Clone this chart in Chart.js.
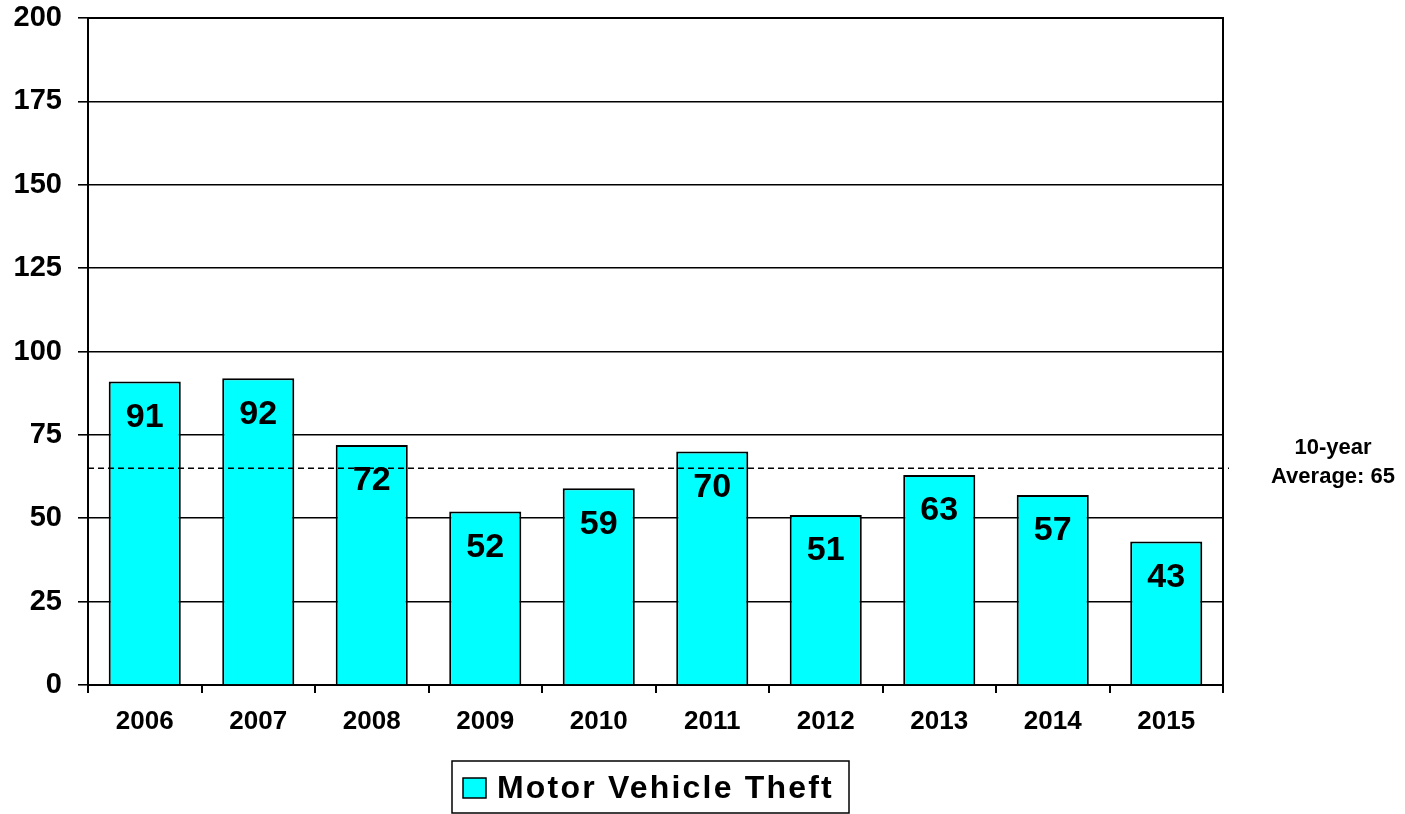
<!DOCTYPE html>
<html>
<head>
<meta charset="utf-8">
<script src="https://cdn.jsdelivr.net/npm/chart.js@4/dist/chart.umd.min.js"></script>
<style>
  html, body { margin: 0; padding: 0; background: #fff; }
  #wrap { width: 1405px; height: 814px; }
</style>
</head>
<body>
<div id="wrap"><canvas id="myChart" width="1405" height="814"></canvas></div>
<script>
// dados do gráfico
const anos = ['2006', '2007', '2008', '2009', '2010', '2011', '2012', '2013', '2014', '2015'];
const roubos = [91, 92, 72, 52, 59, 70, 51, 63, 57, 43];
const media = 65;
const mediaTexto = ['10-year', 'Average: 65'];
const serieNome = 'Motor Vehicle Theft';

const fonte = 'Arial, "Liberation Sans", sans-serif';

// desenha rótulos, linha da média e legenda
const extras = {
  id: 'extras',
  afterDatasetsDraw(chart) {
    const ctx = chart.ctx;
    const area = chart.chartArea;
    const y = chart.scales.y;
    const meta = chart.getDatasetMeta(0);

    // borda do gráfico
    ctx.save();
    ctx.strokeStyle = '#000';
    ctx.lineWidth = 2;
    ctx.beginPath();
    ctx.moveTo(area.left, area.top);
    ctx.lineTo(area.right, area.top);
    ctx.lineTo(area.right, area.bottom);
    ctx.stroke();

    // valores nas barras
    ctx.fillStyle = '#000';
    ctx.font = 'bold 34px ' + fonte;
    ctx.textAlign = 'center';
    ctx.textBaseline = 'middle';
    meta.data.forEach(function (bar, i) {
      ctx.fillText(roubos[i], bar.x, bar.y + 36);
    });

    // linha da média
    const ym = y.getPixelForValue(media);
    ctx.setLineDash([6, 4]);
    ctx.lineWidth = 1.3;
    ctx.beginPath();
    ctx.moveTo(area.left, ym);
    ctx.lineTo(area.right + 6, ym);
    ctx.stroke();
    ctx.setLineDash([]);

    ctx.font = 'bold 22px ' + fonte;
    ctx.fillText(mediaTexto[0], 1333, ym - 20);
    ctx.fillText(mediaTexto[1], 1333, ym + 9);

    // legenda
    ctx.lineWidth = 1.5;
    ctx.strokeRect(452, 761, 397, 52);
    ctx.fillStyle = '#00FFFF';
    ctx.fillRect(463, 778, 23, 20);
    ctx.strokeRect(463, 778, 23, 20);
    ctx.fillStyle = '#000';
    ctx.font = 'bold 32px ' + fonte;
    ctx.letterSpacing = '2.2px';
    ctx.textAlign = 'left';
    ctx.fillText(serieNome, 497, 789);
    ctx.restore();
  }
};

const data = {
  labels: anos,
  datasets: [{
    label: serieNome,
    data: roubos,
    backgroundColor: '#00FFFF',
    borderColor: '#000',
    borderWidth: 2,
    categoryPercentage: 1,
    barPercentage: 0.635
  }]
};

const config = {
  type: 'bar',
  data: data,
  plugins: [extras],
  options: {
    responsive: false,
    animation: false,
    layout: { padding: { left: 0, right: 182, top: 18, bottom: 0 } },
    plugins: {
      legend: { display: false },
      tooltip: { enabled: false }
    },
    scales: {
      x: {
        offset: true,
        afterFit(scale) { scale.height = 129; },
        grid: {
          offset: true,
          drawOnChartArea: false,
          color: '#000',
          lineWidth: 2,
          tickLength: 8
        },
        border: { color: '#000', width: 2 },
        ticks: {
          color: '#000',
          font: { family: fonte, size: 26, weight: 'bold' },
          padding: 13
        }
      },
      y: {
        min: 0,
        max: 200,
        afterFit(scale) {
          scale.width = 88;
          scale.paddingTop = 0;
          scale.paddingBottom = 0;
        },
        grid: {
          color: '#000',
          lineWidth: 1.6,
          tickLength: 10
        },
        border: { color: '#000', width: 2 },
        ticks: {
          stepSize: 25,
          color: '#000',
          font: { family: fonte, size: 29, weight: 'bold' },
          padding: 16
        }
      }
    }
  }
};

const myChart = new Chart(document.getElementById('myChart'), config);
</script>
</body>
</html>
